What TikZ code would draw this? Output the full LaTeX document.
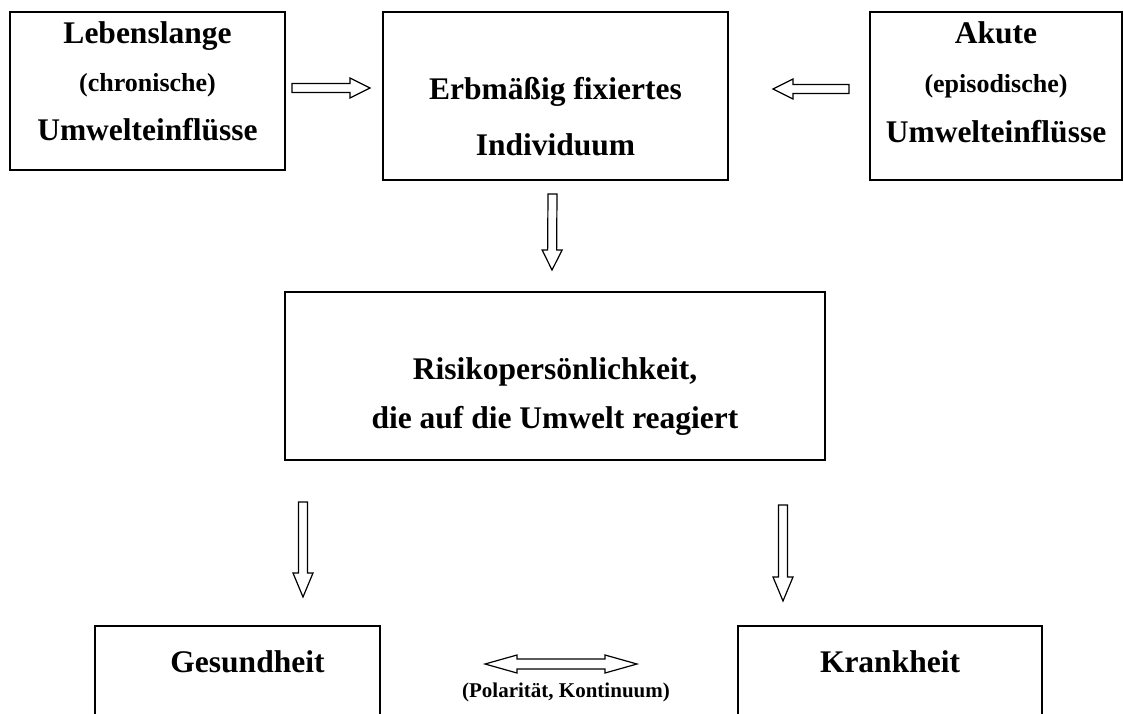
\documentclass[tikz,border=0pt]{standalone}
\usepackage{fontspec}
\setmainfont{Liberation Serif}
\usepackage{tikz}
\usetikzlibrary{calc}
\newcommand\grosstext{\fontsize{31.5}{48.5}\selectfont\bfseries}
\newcommand\mitteltext{\fontsize{26}{32}\selectfont\bfseries}
\newcommand\kleintext{\fontsize{21}{25}\selectfont\bfseries}

\begin{document}
\begin{tikzpicture}[x=1pt, y=-1pt,
  kasten/.style={draw, line width=2pt, inner sep=0pt, outer sep=0pt, align=center, font=\grosstext},
  blockarrow/.style={draw, line width=1.2pt, fill=white, to path={
    coordinate (bs) (\tikztotarget) coordinate (bt)
    ($(bt)!#1!(bs)$) coordinate (bh)
    ($(bs)!4.5pt!90:(bt)$) -- ($(bh)!4.5pt!90:(bt)$) -- ($(bh)!10pt!90:(bt)$) -- (bt)
    -- ($(bh)!10pt!-90:(bt)$) -- ($(bh)!4.5pt!-90:(bt)$) -- ($(bs)!4.5pt!-90:(bt)$) -- cycle}},
  blockarrow/.default=20pt,
  doublearrow/.style={draw, line width=1.2pt, fill=white, to path={
    coordinate (bs) (\tikztotarget) coordinate (bt)
    ($(bs)!#1!(bt)$) coordinate (ha) ($(bt)!#1!(bs)$) coordinate (hb)
    (bs) -- ($(ha)!9pt!90:(bt)$) -- ($(ha)!5pt!90:(bt)$) -- ($(hb)!5pt!90:(bt)$) -- ($(hb)!9pt!90:(bt)$) -- (bt)
    -- ($(hb)!9pt!-90:(bt)$) -- ($(hb)!5pt!-90:(bt)$) -- ($(ha)!5pt!-90:(bt)$) -- ($(ha)!9pt!-90:(bt)$) -- cycle}},
  doublearrow/.default=32pt]
  \useasboundingbox (0,0) rectangle (1124,713);
  \clip (0,0) rectangle (1124,713);

  % top row
  \node[kasten, minimum width=275pt, minimum height=158pt] (lb) at (147.5,91)
    {\rule{0pt}{30pt}Lebenslange\\{\mitteltext(chronische)}\\Umwelteinflüsse\rule[-29pt]{0pt}{29pt}};
  \node[kasten, minimum width=345pt, minimum height=168pt] (eb) at (555.5,96)
    {\rule{0pt}{75pt}Erbmäßig fixiertes\\[7.5pt]Individuum\rule[-13pt]{0pt}{13pt}};
  \node[kasten, minimum width=252pt, minimum height=168pt] (ab) at (996,96)
    {\rule{0pt}{30pt}Akute\\[1pt]{\mitteltext(episodische)}\\[1pt]Umwelteinflüsse\rule[-37pt]{0pt}{37pt}};

  % middle
  \node[kasten, minimum width=540pt, minimum height=168pt] (rp) at (555,376)
    {\rule{0pt}{70pt}Risikopersönlichkeit,\\[0.5pt]die auf die Umwelt reagiert\rule[-15pt]{0pt}{15pt}};

  % bottom row (cut off)
  \node[kasten, minimum width=285pt, minimum height=154pt] (gb) at (237.5,703)
    {\hspace*{20pt}\rule{0pt}{30pt}Gesundheit\rule[-92pt]{0pt}{92pt}};
  \node[kasten, minimum width=304pt, minimum height=154pt] (kb) at (890,703)
    {\rule{0pt}{30pt}Krankheit\rule[-92pt]{0pt}{92pt}};
  \node[font=\kleintext, anchor=base, inner sep=0pt] (pol) at (566,697) {(Polarität, Kontinuum)};

  % arrows
  \draw[blockarrow] ([xshift=7pt,yshift=3pt]lb.east) to ([xshift=-13pt,yshift=8pt]eb.west);
  \draw[blockarrow] ([xshift=-21pt,yshift=7pt]ab.west) to ([xshift=45pt,yshift=7pt]eb.east);
  \draw[blockarrow] ([xshift=-3pt,yshift=-14pt]eb.south) to ([xshift=-3pt,yshift=22pt]rp.north);
  \draw[blockarrow=24pt] ([xshift=18pt,yshift=-42pt]rp.south west) to ([xshift=208pt,yshift=29pt]gb.north west);
  \draw[blockarrow=24pt] ([xshift=-42pt,yshift=-45pt]rp.south east) to ([xshift=45pt,yshift=25pt]kb.north west);
  \draw[doublearrow] ([xshift=105pt,yshift=39pt]gb.east) to ([xshift=-101pt,yshift=39pt]kb.west);
\end{tikzpicture}
\end{document}
